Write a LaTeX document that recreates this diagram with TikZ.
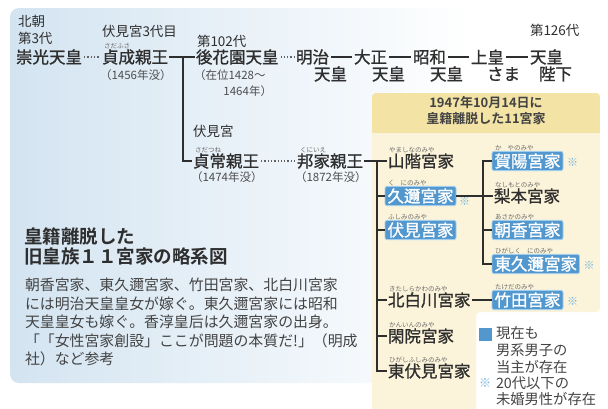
\documentclass[tikz,border=0pt]{standalone}
\usepackage{fontspec}
\setmainfont{Noto Sans CJK JP}[BoldFont={Noto Sans CJK JP Bold}]
\newfontfamily\jpm{Noto Sans CJK JP}[FakeBold=1.2]
\usetikzlibrary{calc}
\definecolor{txt}{HTML}{2E2E2E}
\definecolor{panelL}{HTML}{D3E4F1}
\definecolor{ttlband}{HTML}{F3E4A6}
\definecolor{ybody}{HTML}{FCF4DA}
\definecolor{hbox}{HTML}{5297CD}
\definecolor{hedge}{HTML}{A3CDEC}
\definecolor{komec}{HTML}{6FB0E0}
\definecolor{rubyc}{HTML}{6A6A6A}
\definecolor{legc}{HTML}{444444}
\tikzset{
  every node/.style={inner sep=0pt, outer sep=0pt, text=txt},
  jbig/.style={font=\jpm\fontsize{16.5}{18}\selectfont, anchor=west},
  jlab/.style={font=\fontsize{13.5}{15}\selectfont, anchor=west},
  jyear/.style={font=\fontsize{11.5}{13}\selectfont, anchor=west, text=txt!85},
  jruby/.style={font=\fontsize{6.5}{7}\selectfont, text=rubyc, anchor=south west},
  jhouse/.style={font=\jpm\fontsize{16.5}{18}\selectfont, anchor=west},
  jhl/.style={jhouse, fill=hbox, draw=hedge, line width=0.9pt, rounded corners=2pt, text=white, inner xsep=2.5pt, inner ysep=2pt},
  jln/.style={draw=txt, line width=1.4pt},
  jdot/.style={draw=txt!75, line width=1.3pt, dotted},
  jkome/.style={text=komec, font=\fontsize{11}{12}\selectfont, anchor=west},
  jleg/.style={font=\fontsize{14.3}{16}\selectfont, anchor=west, text=legc},
  jbody/.style={font=\fontsize{14.9}{16}\selectfont, anchor=west, text=txt!90},
}
\begin{document}
\begin{tikzpicture}[x=1pt,y=-1pt]
\useasboundingbox (0,0) rectangle (608,408);
\fill[white] (0,0) rectangle (608,408);
% blue panel
\shade[left color=panelL, right color=white, rounded corners=9pt] (10,8) rectangle (472,383);
% yellow box
\begin{scope}
\clip[rounded corners=4pt] (372,93) -- (600,93) -- (600,312) -- (476,312) -- (476,415) -- (372,415) -- cycle;
\fill[fill=ybody] (372,93) rectangle (600,415);
\fill[fill=ttlband] (372,93) rectangle (600,133);
\end{scope}
\node[font=\bfseries\fontsize{13}{16}\selectfont, align=center, text=txt!90] (ttl) at (486,111) {1947年10月14日に\\皇籍離脱した11宮家};

% top row
\node[jlab] (hoku) at (18,21) {北朝};
\node[jlab] (dai3) at (18,38) {第3代};
\node[jbig] (sukou) at (16,57) {崇光天皇};
\node[jlab] (fu3) at (102,31) {伏見宮3代目};
\node[jbig] (sadafusa) at (102,57) {貞成親王};
\node[jruby] at ($(sadafusa.north west)+(2,-0.5)$) {さだふさ};
\node[jyear] (y1456) at (100,75) {（1456年没）};
\node[jlab] (d102) at (197,41) {第102代};
\node[jbig] (gohana) at (196,57) {後花園天皇};
\node[jyear] (zaii) at (194,75) {（在位1428〜};
\node[jyear, anchor=east] (y1464) at (272,91) {1464年）};

\node[jbig] (meiji) at (296,57) {明治};
\node[jbig] (taisho) at (354,57) {大正};
\node[jbig] (showa) at (413,57) {昭和};
\node[jbig] (jokou) at (471,57) {上皇};
\node[jbig] (tenno) at (530,57) {天皇};
\node[jbig] at (314,74) {天皇};
\node[jbig] at (372,74) {天皇};
\node[jbig] at (430,74) {天皇};
\node[jbig] at (487,74) {さま};
\node[jbig] at (539,74) {陛下};
\node[jlab] (d126) at (530,30) {第126代};

% second row
\node[jlab] (fushimiya) at (193,131) {伏見宮};
\node[jbig] (sadatsune) at (193,161) {貞常親王};
\node[jruby] at ($(sadatsune.north west)+(2,-0.5)$) {さだつね};
\node[jyear] (y1474) at (191,177) {（1474年没）};
\node[jbig] (kuniie) at (297,161) {邦家親王};
\node[jruby] at ($(kuniie.north west)+(3,-0.5)$) {くにいえ};
\node[jyear] (y1872) at (295,177) {（1872年没）};

% houses left column
\node[jhouse] (yamashina) at (388,161) {山階宮家};
\node[jruby] at ($(yamashina.north west)+(1,-0.5)$) {やましなのみや};
\node[jhl] (kuni) at (385,196) {久邇宮家};
\node[jruby] at ($(kuni.north west)+(3,-0.5)$) {く\hspace{6pt}にのみや};
\node[jkome] at ($(kuni.south east)+(3,-4)$) {※};
\node[jhl] (fushimi) at (385,230) {伏見宮家};
\node[jruby] at ($(fushimi.north west)+(3,-0.5)$) {ふしみのみや};
\node[jhouse] (kitashira) at (388,300) {北白川宮家};
\node[jruby] at ($(kitashira.north west)+(1,-0.5)$) {きたしらかわのみや};
\node[jhouse] (kanin) at (388,336) {閑院宮家};
\node[jruby] at ($(kanin.north west)+(1,-0.5)$) {かんいんのみや};
\node[jhouse] (hfushimi) at (388,371) {東伏見宮家};
\node[jruby] at ($(hfushimi.north west)+(1,-0.5)$) {ひがしふしみのみや};

% houses right column
\node[jhl] (kaya) at (492,161) {賀陽宮家};
\node[jruby] at ($(kaya.north west)+(3,-0.5)$) {か\hspace{6pt}やのみや};
\node[jkome] at ($(kaya.east)+(4,1)$) {※};
\node[jhouse] (nashi) at (494,196) {梨本宮家};
\node[jruby] at ($(nashi.north west)+(1,-0.5)$) {なしもとのみや};
\node[jhl] (asaka) at (492,230) {朝香宮家};
\node[jruby] at ($(asaka.north west)+(3,-0.5)$) {あさかのみや};
\node[jhl] (hkuni) at (492,264) {東久邇宮家};
\node[jruby] at ($(hkuni.north west)+(3,-0.5)$) {ひがしく\hspace{6pt}にのみや};
\node[jkome] at ($(hkuni.east)+(4,1)$) {※};
\node[jhl] (takeda) at (492,300) {竹田宮家};
\node[jruby] at ($(takeda.north west)+(3,-0.5)$) {たけだのみや};
\node[jkome] at ($(takeda.east)+(4,1)$) {※};

% connectors
\draw[jdot] ($(sukou.east)+(2,0)$) -- ($(sadafusa.west)+(-2,0)$);
\draw[jln] ($(sadafusa.east)+(1,0)$) -- ($(gohana.west)+(-1,0)$);
\coordinate (j1) at (183,57);
\draw[jln] (j1) |- ($(sadatsune.west)+(-1,0)$);
\draw[jdot] ($(gohana.east)+(2,0)$) -- ($(meiji.west)+(-2,0)$);
\draw[jln] ($(meiji.east)+(2,0)$) -- ($(taisho.west)+(-2,0)$);
\draw[jln] ($(taisho.east)+(2,0)$) -- ($(showa.west)+(-2,0)$);
\draw[jln] ($(showa.east)+(2,0)$) -- ($(jokou.west)+(-2,0)$);
\draw[jln] ($(jokou.east)+(2,0)$) -- ($(tenno.west)+(-2,0)$);
\draw[jdot] ($(sadatsune.east)+(2,0)$) -- ($(kuniie.west)+(-2,0)$);
\draw[jln] ($(kuniie.east)+(1,0)$) -- ($(yamashina.west)+(-1,0)$);
\coordinate (vl) at (377,161);
\draw[jln] (vl) |- ($(hfushimi.west)+(-1,0)$);
\draw[jln] (vl |- kuni.west) -- (kuni.west);
\draw[jln] (vl |- fushimi.west) -- (fushimi.west);
\draw[jln] (vl |- kitashira.west) -- ($(kitashira.west)+(-1,0)$);
\draw[jln] (vl |- kanin.west) -- ($(kanin.west)+(-1,0)$);
\coordinate (vr) at (483,264);
\draw[jln] (kaya.west) -| (vr) -- (hkuni.west);
\draw[jln] (kuni.east) -- ($(nashi.west)+(-1,0)$);
\draw[jln] (vr |- asaka.west) -- (asaka.west);
\draw[jln] ($(kitashira.east)+(1,0)$) -- (takeda.west);

% legend
\fill[hbox] (479,328) rectangle (492,341);
\node[jleg] (l1) at (496,333) {現在も};
\node[jleg] (l2) at (496,350) {男系男子の};
\node[jleg] (l3) at (496,367) {当主が存在};
\node[jkome, font=\fontsize{12}{13}\selectfont] (lk) at (479,383) {※};
\node[jleg] (l4) at (496,383) {20代以下の};
\node[jleg] (l5) at (496,399) {未婚男性が存在};

% left text block
\node[font=\bfseries\fontsize{18.5}{20}\selectfont, anchor=west] (t1) at (24,236) {皇籍離脱した};
\node[font=\bfseries\fontsize{18.5}{20}\selectfont, anchor=west] (t2) at (24,256) {旧皇族１１宮家の略系図};
\node[jbody] (b1) at (25,285) {朝香宮家、東久邇宮家、竹田宮家、北白川宮家};
\node[jbody] (b2) at (25,303.5) {には明治天皇皇女が嫁ぐ。東久邇宮家には昭和};
\node[jbody] (b3) at (25,322) {天皇皇女も嫁ぐ。香淳皇后は久邇宮家の出身。};
\node[jbody] (b4) at (25,340.5) {「「女性宮家創設」ここが問題の本質だ!」（明成};
\node[jbody] (b5) at (25,359) {社）など参考};
\end{tikzpicture}
\end{document}
